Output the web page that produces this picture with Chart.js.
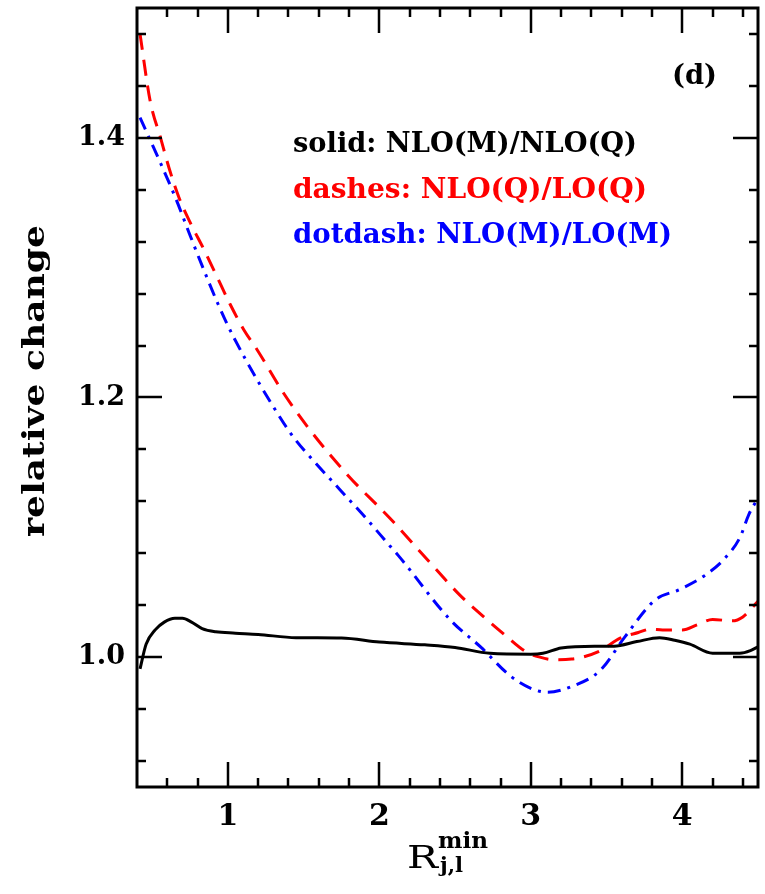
<!DOCTYPE html>
<html>
<head>
<meta charset="utf-8">
<script src="https://cdn.jsdelivr.net/npm/chart.js@4.4.0/dist/chart.umd.min.js"></script>
<style>
  html, body { margin: 0; padding: 0; background: #fff; }
  #wrap { width: 765px; height: 894px; }
</style>
</head>
<body>
<div id="wrap"><canvas id="chart" width="765" height="894"></canvas></div>
<script>
// solid: NLO(M)/NLO(Q)
const solidX = [0.42, 0.46, 0.52, 0.58, 0.65, 0.70, 0.76, 0.83, 0.92, 1.05, 1.2, 1.45, 1.75, 2.0, 2.3, 2.5, 2.73, 3.0, 3.08, 3.2, 3.42, 3.55, 3.7, 3.85, 3.95, 4.05, 4.2, 4.38, 4.45, 4.5];
const solidY = [0.991, 1.010, 1.021, 1.027, 1.030, 1.030, 1.027, 1.022, 1.0195, 1.0185, 1.0175, 1.015, 1.0147, 1.0116, 1.0095, 1.0075, 1.003, 1.0023, 1.003, 1.007, 1.0085, 1.0085, 1.012, 1.015, 1.013, 1.010, 1.003, 1.003, 1.005, 1.008];

// dashes: NLO(Q)/LO(Q)
const dashX = [0.42, 0.486, 0.558, 0.611, 0.677, 0.75, 0.842, 0.928, 1.014, 1.106, 1.192, 1.364, 1.542, 1.793, 2.07, 2.31, 2.53, 2.68, 2.82, 2.97, 3.06, 3.16, 3.27, 3.34, 3.46, 3.59, 3.71, 3.79, 3.87, 4.0, 4.1, 4.2, 4.33, 4.4, 4.5];
const dashY = [1.480, 1.429, 1.399, 1.377, 1.354, 1.335, 1.314, 1.293, 1.272, 1.252, 1.237, 1.204, 1.175, 1.140, 1.107, 1.076, 1.048, 1.032, 1.018, 1.004, 1.000, 0.998, 0.9985, 1.000, 1.005, 1.0146, 1.019, 1.0216, 1.021, 1.021, 1.025, 1.029, 1.028, 1.031, 1.043];

// dotdash: NLO(M)/LO(M)
const dotX = [0.42, 0.492, 0.565, 0.657, 0.75, 0.842, 0.935, 1.04, 1.37, 1.456, 1.575, 1.74, 1.912, 2.07, 2.123, 2.47, 2.67, 2.86, 3.0, 3.11, 3.26, 3.46, 3.62, 3.82, 3.98, 4.15, 4.28, 4.38, 4.44, 4.5];
const dotY = [1.4156, 1.397, 1.378, 1.353, 1.325, 1.298, 1.272, 1.246, 1.180, 1.166, 1.150, 1.129, 1.107, 1.0856, 1.0786, 1.0285, 1.0077, 0.986, 0.976, 0.973, 0.977, 0.990, 1.0154, 1.044, 1.052, 1.063, 1.076, 1.092, 1.110, 1.1226];

const xTickValues = [1, 2, 3, 4];
const yTickValues = [1.0, 1.2, 1.4];
const legendLines = ["solid: NLO(M)/NLO(Q)", "dashes: NLO(Q)/LO(Q)", "dotdash: NLO(M)/LO(M)"];
const legendColors = ["#000000", "#ff0000", "#0000ff"];

function toPoints(xs, ys) {
  return xs.map((x, i) => ({ x: x, y: ys[i] }));
}

// draw text squeezed or stretched to a given width
function fitText(ctx, text, x, y, w) {
  const m = ctx.measureText(text).width;
  ctx.save();
  ctx.translate(x, y);
  ctx.scale(w / m, 1);
  ctx.fillText(text, 0, 0);
  ctx.restore();
}

const framePlugin = {
  id: "frame",
  afterDraw(chart) {
    const ctx = chart.ctx;
    const a = chart.chartArea;
    const xs = chart.scales.x;
    const ys = chart.scales.y;
    ctx.save();
    ctx.strokeStyle = "#000";
    ctx.lineWidth = 3;
    ctx.strokeRect(a.left, a.top, a.right - a.left, a.bottom - a.top);

    // ticks, pointing inward on all four sides
    ctx.lineWidth = 2.5;
    ctx.beginPath();
    for (let v = 0.6; v < 4.5; v += 0.2) {
      const px = Math.round(xs.getPixelForValue(v));
      const major = Math.abs(v - Math.round(v)) < 0.01;
      const len = major ? 25 : 9;
      ctx.moveTo(px, a.bottom); ctx.lineTo(px, a.bottom - len);
      ctx.moveTo(px, a.top); ctx.lineTo(px, a.top + len);
    }
    for (let v = 0.92; v < 1.5; v += 0.04) {
      const py = Math.round(ys.getPixelForValue(v));
      const major = yTickValues.some(t => Math.abs(t - v) < 0.005);
      const len = major ? 25 : 9;
      ctx.moveTo(a.left, py); ctx.lineTo(a.left + len, py);
      ctx.moveTo(a.right, py); ctx.lineTo(a.right - len, py);
    }
    ctx.stroke();

    // legend text
    ctx.font = "bold 27px 'DejaVu Serif'";
    ctx.textAlign = "left";
    ctx.textBaseline = "alphabetic";
    const baselines = [152, 198, 243];
    const widths = [344, 354, 379];
    legendLines.forEach((t, i) => {
      ctx.fillStyle = legendColors[i];
      fitText(ctx, t, 293, baselines[i], widths[i]);
    });

    // panel label
    ctx.fillStyle = "#000";
    ctx.font = "bold 27px 'DejaVu Serif'";
    fitText(ctx, "(d)", 672, 84, 45);

    // y title
    ctx.save();
    ctx.translate(36, 381);
    ctx.rotate(-Math.PI / 2);
    ctx.font = "bold 29px 'DejaVu Serif'";
    ctx.textBaseline = "middle";
    fitText(ctx, "relative change", -156, 0, 312);
    ctx.restore();

    // x title: R_{j,l}^{min}
    ctx.textAlign = "left";
    ctx.font = "32px 'DejaVu Serif'";
    fitText(ctx, "R", 407, 868, 31);
    ctx.font = "bold 22px 'DejaVu Serif'";
    fitText(ctx, "min", 438, 848, 50);
    ctx.font = "bold 21px 'DejaVu Serif'";
    fitText(ctx, "j,l", 440, 872, 23);
    ctx.restore();
  }
};

const ctx = document.getElementById("chart").getContext("2d");
const chart = new Chart(ctx, {
  type: "scatter",
  data: {
    datasets: [
      {
        label: "solid",
        data: toPoints(solidX, solidY),
        showLine: true,
        borderColor: "#000000",
        borderWidth: 3,
        pointRadius: 0,
        cubicInterpolationMode: "monotone",
      },
      {
        label: "dashes",
        data: toPoints(dashX, dashY),
        showLine: true,
        borderColor: "#ff0000",
        borderWidth: 3,
        borderDash: [16, 10],
        pointRadius: 0,
        cubicInterpolationMode: "monotone",
      },
      {
        label: "dotdash",
        data: toPoints(dotX, dotY),
        showLine: true,
        borderColor: "#0000ff",
        borderWidth: 3,
        borderDash: [13, 7, 3, 7],
        pointRadius: 0,
        cubicInterpolationMode: "monotone",
      },
    ],
  },
  options: {
    responsive: false,
    animation: false,
    devicePixelRatio: 1,
    layout: { padding: { top: 8, right: 7, left: 0, bottom: 0 } },
    plugins: {
      legend: { display: false },
      tooltip: { enabled: false },
    },
    scales: {
      x: {
        type: "linear",
        min: 0.4,
        max: 4.5,
        border: { display: false },
        grid: { display: false, drawTicks: false, tickLength: 0 },
        afterBuildTicks: (s) => { s.ticks = xTickValues.map(v => ({ value: v })); },
        afterFit: (s) => { s.height = 107; s.paddingLeft = 0; s.paddingRight = 0; },
        ticks: {
          autoSkip: false,
          maxRotation: 0,
          padding: 12,
          color: "#000",
          font: { family: "DejaVu Serif", size: 30, weight: "bold" },
          callback: (v) => String(v),
        },
      },
      y: {
        type: "linear",
        min: 0.9,
        max: 1.5,
        border: { display: false },
        grid: { display: false, drawTicks: false, tickLength: 0 },
        afterBuildTicks: (s) => { s.ticks = yTickValues.map(v => ({ value: v })); },
        afterFit: (s) => { s.width = 137; s.paddingTop = 0; s.paddingBottom = 0; },
        ticks: {
          autoSkip: false,
          padding: 12,
          color: "#000",
          font: { family: "DejaVu Serif", size: 27, weight: "bold" },
          callback: (v) => Number(v).toFixed(1),
        },
      },
    },
  },
  plugins: [framePlugin],
});
</script>
</body>
</html>
